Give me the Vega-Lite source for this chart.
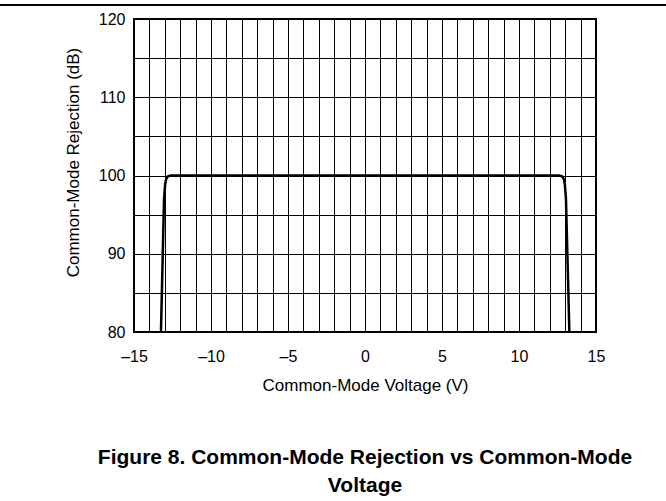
{
  "$schema": "https://vega.github.io/schema/vega-lite/v6.json",
  "width": 462,
  "height": 313,
  "autosize": {"type": "none"},
  "padding": {"left": 134, "top": 19, "right": 70, "bottom": 169},
  "background": "white",
  "config": {
    "font": "Liberation Sans",
    "view": {"stroke": "black", "strokeWidth": 2},
    "axis": {
      "labelFont": "Liberation Sans",
      "titleFont": "Liberation Sans",
      "labelColor": "black",
      "titleColor": "black",
      "labelFontSize": 16,
      "titleFontSize": 17,
      "titleFontWeight": "normal",
      "ticks": false,
      "domain": false,
      "labelOverlap": false,
      "gridColor": "black",
      "gridOpacity": 1,
      "gridWidth": 1
    }
  },
  "title": {
    "text": ["Figure 8. Common-Mode Rejection vs Common-Mode", "Voltage"],
    "orient": "bottom",
    "anchor": "middle",
    "font": "Liberation Sans",
    "fontSize": 21,
    "fontWeight": "bold",
    "color": "black",
    "lineHeight": 28,
    "offset": 54
  },
  "data": {
    "values": [
      {"v": -13.25, "cmr": 80},
      {"v": -13.05, "cmr": 97},
      {"v": -12.98, "cmr": 98.8},
      {"v": -12.92, "cmr": 99.5},
      {"v": -12.8, "cmr": 99.9},
      {"v": -12.6, "cmr": 100},
      {"v": 12.6, "cmr": 100},
      {"v": 12.8, "cmr": 99.9},
      {"v": 12.92, "cmr": 99.5},
      {"v": 12.98, "cmr": 98.8},
      {"v": 13.05, "cmr": 97},
      {"v": 13.27, "cmr": 80}
    ]
  },
  "layer": [
    {
      "mark": {"type": "line", "color": "black", "strokeWidth": 2.5, "clip": true},
      "encoding": {
        "x": {
          "field": "v",
          "type": "quantitative",
          "scale": {"domain": [-15, 15], "nice": false, "zero": false},
          "axis": {
            "title": "Common-Mode Voltage (V)",
            "values": [-15,-14,-13,-12,-11,-10,-9,-8,-7,-6,-5,-4,-3,-2,-1,0,1,2,3,4,5,6,7,8,9,10,11,12,13,14,15],
            "tickCount": 31,
            "labelExpr": "datum.value % 5 === 0 ? (datum.value < 0 ? '–' + (-datum.value) : '' + datum.value) : ''",
            "labelPadding": 16,
            "titlePadding": 13,
            "labelFlush": false
          }
        },
        "y": {
          "field": "cmr",
          "type": "quantitative",
          "scale": {"domain": [80, 120], "nice": false, "zero": false},
          "axis": {
            "title": "Common-Mode Rejection (dB)",
            "values": [80, 85, 90, 95, 100, 105, 110, 115, 120],
            "tickCount": 9,
            "labelExpr": "datum.value % 10 === 0 ? datum.label : ''",
            "labelPadding": 9,
            "titlePadding": 16,
            "titleY": 143,
            "labelFlush": false
          }
        }
      }
    },
    {
      "mark": {"type": "rule", "color": "black", "strokeWidth": 1.3, "clip": false},
      "encoding": {
        "x": {"datum": -24},
        "x2": {"datum": 20},
        "y": {"datum": 121.75}
      }
    }
  ]
}
